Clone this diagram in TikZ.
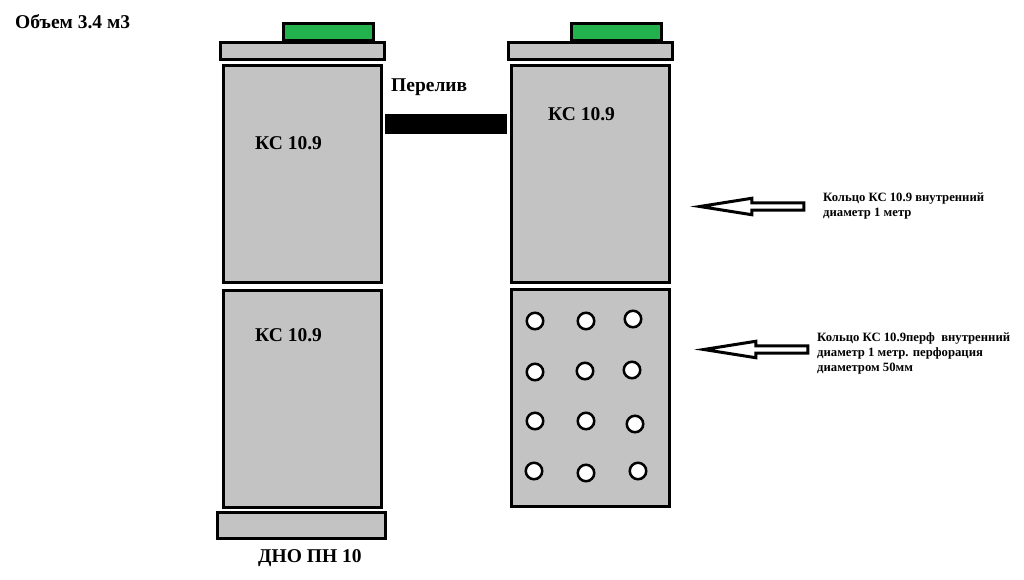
\documentclass[tikz,border=0pt]{standalone}
\usepackage{fontspec}
\setmainfont{Liberation Serif}
\usetikzlibrary{shapes.arrows, positioning}
\definecolor{ringgray}{HTML}{C3C3C3}
\definecolor{capgreen}{HTML}{22B14C}

\begin{document}
\begin{tikzpicture}[
    x=1pt, y=-1pt,
    ringbox/.style={rectangle, draw, line width=3pt, fill=ringgray, inner sep=0pt, minimum width=158pt, minimum height=217pt},
    lidbox/.style={rectangle, draw, line width=3pt, fill=ringgray, inner sep=0pt, minimum width=164pt, minimum height=17pt},
    capbox/.style={rectangle, draw, line width=3pt, fill=capgreen, inner sep=0pt, minimum width=90pt, minimum height=17pt},
    hole/.style={circle, draw, line width=2.5pt, fill=white, inner sep=0pt, minimum size=16.5pt},
    pointer/.style={single arrow, draw, line width=3pt, fill=white, inner sep=0pt, minimum height=104pt, minimum width=16.5pt, single arrow head extend=2pt, single arrow tip angle=18, shape border rotate=180},
    pipe/.style={line width=20pt},
    bigtext/.style={font=\bfseries\fontsize{19.5}{22}\selectfont, inner sep=0pt, anchor=west},
    smalltext/.style={font=\bfseries\fontsize{12.7}{15}\selectfont, inner sep=0pt, anchor=north west, align=left}
]
    \useasboundingbox (0,0) rectangle (1024,580);

    % левый колодец
    \node[ringbox] (ringA) at (302.5,174) {};
    \node[ringbox, below=5pt of ringA] (ringB) {};
    \node[lidbox, above=3pt of ringA] (lidA) {};
    \node[capbox, above=-1pt of lidA, xshift=26pt] (capA) {};
    \node[lidbox, below=2pt of ringB, xshift=-1pt, minimum width=168pt, minimum height=26pt] (base) {};

    % правый колодец
    \node[ringbox] (ringC) at (590.5,174) {};
    \node[ringbox, below=4pt of ringC] (ringD) {};
    \node[lidbox, above=3pt of ringC] (lidC) {};
    \node[capbox, above=-1pt of lidC, xshift=26pt] (capC) {};

    % перфорация
    \node[hole] (hole1) at (535,321) {};
    \node[hole] (hole2) at (586,321) {};
    \node[hole] (hole3) at (633,319) {};
    \node[hole] (hole4) at (535,372) {};
    \node[hole] (hole5) at (585,371) {};
    \node[hole] (hole6) at (632,370) {};
    \node[hole] (hole7) at (535,421) {};
    \node[hole] (hole8) at (586,421) {};
    \node[hole] (hole9) at (635,424) {};
    \node[hole] (hole10) at (534,471) {};
    \node[hole] (hole11) at (586,473) {};
    \node[hole] (hole12) at (638,471) {};

    % перелив
    \draw[pipe] ([xshift=2pt, yshift=-60pt]ringA.north east) -- ([xshift=-3pt, yshift=-60pt]ringC.north west);

    % стрелки
    \node[pointer] (arrowA) at (763,206.5) {};
    \node[pointer] (arrowB) at (767,349.5) {};

    % подписи
    \node[bigtext] (volume) at (15,22) {Объем 3.4 м3};
    \node[bigtext] (labelA) at (255,143) {КС 10.9};
    \node[bigtext] (labelB) at (255,335) {КС 10.9};
    \node[bigtext] (labelC) at (548,114) {КС 10.9};
    \node[bigtext] (overflow) at (391,87) {Перелив};
    \node[bigtext] (bottom) at (258,558) {ДНО ПН 10};
    \node[smalltext] (noteA) at (823,193) {Кольцо КС 10.9 внутренний\\диаметр 1 метр};
    \node[smalltext] (noteB) at (817,332) {Кольцо КС 10.9перф~ внутренний\\диаметр 1 метр. перфорация\\диаметром 50мм};
\end{tikzpicture}
\end{document}
